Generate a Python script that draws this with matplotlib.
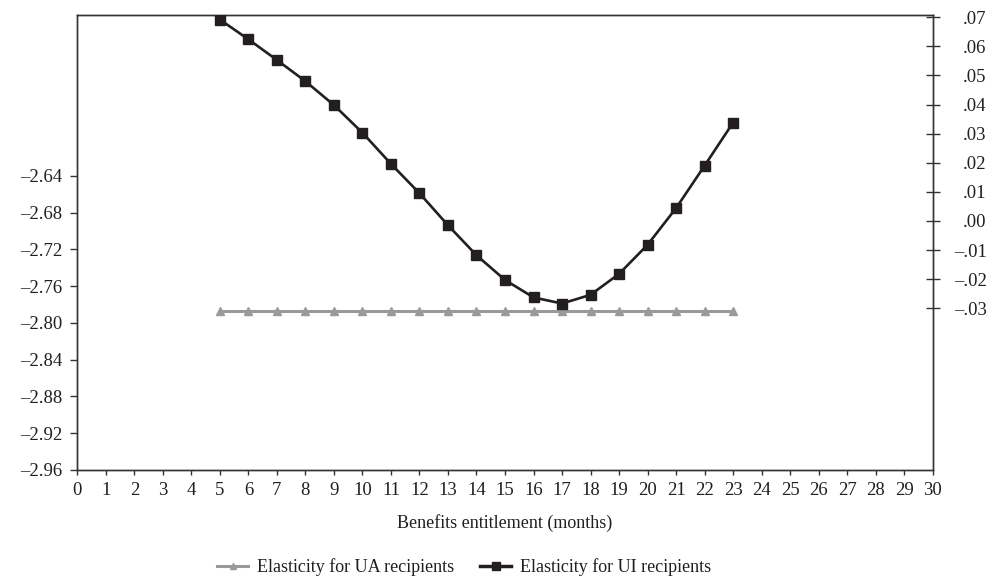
import matplotlib
matplotlib.use("Agg")
import matplotlib.pyplot as plt
from matplotlib.ticker import FuncFormatter, FixedLocator
from matplotlib.lines import Line2D

months = list(range(5, 24))
ua_elasticity = [-2.787] * len(months)
ui_elasticity = [0.0692, 0.0624, 0.0553, 0.0480, 0.0398, 0.0303, 0.0196, 0.0095,
                 -0.0015, -0.0118, -0.0203, -0.0263, -0.0284, -0.0254, -0.0182,
                 -0.0082, 0.0044, 0.0190, 0.0338]
left_ticks = [-2.96, -2.92, -2.88, -2.84, -2.80, -2.76, -2.72, -2.68, -2.64]
right_ticks = [-0.03, -0.02, -0.01, 0.00, 0.01, 0.02, 0.03, 0.04, 0.05, 0.06, 0.07]
x_ticks = list(range(0, 31))

plt.rcParams['font.family'] = ['Liberation Serif', 'DejaVu Serif']
ink = '#231f20'
gray = '#9a9a9a'
fs = 13.5

fig = plt.figure(figsize=(9.91, 5.80), dpi=100)
ax1 = fig.add_axes([0.078, 0.1897, 0.8632, 0.7836])
ax2 = ax1.twinx()

ax1.plot(months, ua_elasticity, color=gray, lw=2.2, marker='^', ms=6,
         markeredgecolor=gray, markerfacecolor=gray, zorder=3)
ax2.plot(months, ui_elasticity, color=ink, lw=1.9, marker='s', ms=6.5,
         markeredgecolor=ink, markerfacecolor=ink, zorder=4)

ax1.set_xlim(0, 30)
ax1.set_ylim(-2.96, -2.4654)
ax2.set_ylim(-0.0856, 0.0706)

ax1.xaxis.set_major_locator(FixedLocator(x_ticks))
ax1.yaxis.set_major_locator(FixedLocator(left_ticks))
ax2.yaxis.set_major_locator(FixedLocator(right_ticks))

def fmt_left(v, pos):
    return f"{v:.2f}".replace('-', '\u2013')

def fmt_right(v, pos):
    s = f"{v:.2f}"
    if s == "-0.00":
        s = "0.00"
    s = s.replace('0.', '.', 1) if s.startswith('0.') else s.replace('-0.', '-.', 1)
    return s.replace('-', '\u2013')

ax1.yaxis.set_major_formatter(FuncFormatter(fmt_left))
ax2.yaxis.set_major_formatter(FuncFormatter(fmt_right))

for ax in (ax1, ax2):
    for sp in ax.spines.values():
        sp.set_color('#333333')
        sp.set_linewidth(1.0)

ax1.tick_params(axis='y', direction='out', length=5, width=1, color='#333333',
                labelsize=fs, labelcolor=ink, pad=5.5)
ax1.tick_params(axis='x', direction='out', length=3.5, width=1, color='#333333',
                labelsize=fs, labelcolor=ink, pad=5)
ax2.tick_params(axis='y', direction='inout', length=9.5, width=1, color='#333333',
                labelsize=fs, labelcolor=ink, pad=34)
for lab in ax2.get_yticklabels():
    lab.set_horizontalalignment('right')

ax1.set_xlabel('Benefits entitlement (months)', fontsize=13, color=ink, labelpad=11)

handles = [
    Line2D([], [], color=gray, lw=2.2, marker='^', ms=5, markeredgecolor=gray),
    Line2D([], [], color=ink, lw=2.5, marker='s', ms=6, markeredgecolor=ink),
]
labels = ['Elasticity for UA recipients', 'Elasticity for UI recipients']
fig.legend(handles, labels, loc='center', bbox_to_anchor=(0.468, 0.022), ncol=2,
           frameon=False, fontsize=13, handlelength=1.75, columnspacing=1.45,
           handletextpad=0.45, labelcolor=ink)

fig.savefig('out.png', dpi=100)
